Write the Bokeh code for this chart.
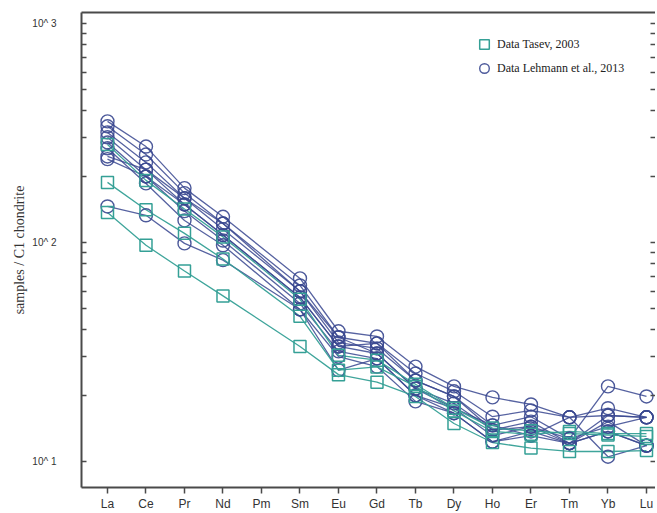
from bokeh.plotting import figure
from bokeh.models import (FixedTicker, LogAxis, LinearAxis, Legend, LegendItem,
                          CustomJSTickFormatter, Range1d)
from bokeh.embed import file_html
from bokeh.resources import INLINE

# ---- data -------------------------------------------------------------
elements = ["La", "Ce", "Pr", "Nd", "Pm", "Sm", "Eu", "Gd", "Tb", "Dy",
            "Ho", "Er", "Tm", "Yb", "Lu"]
measured = ["La", "Ce", "Pr", "Nd", "Sm", "Eu", "Gd", "Tb", "Dy",
            "Ho", "Er", "Tm", "Yb", "Lu"]

tasev_1 = [188, 141, 110, 84, 46, 26.1, 27, 22, 17, 13.7, 13.3, 13.7, 13.4, 13.4]
tasev_2 = [137, 97, 74, 57, 33.5, 24.9, 23, 19.8, 14.9, 12.2, 11.5, 11.1, 11.1, 11.2]
tasev_3 = [280, 192, 142, 106, 55, 30.5, 29, 22.5, 17.5, 14.2, 13.8, 13.4, 13.2, 13.0]

lehmann_1 = [357, 274, 177, 131, 68.5, 39.3, 37.2, 27.1, 22.0, 19.6, 18.2, 15.9, 17.5, 15.9]
lehmann_2 = [339, 252, 168, 122, 63.6, 36.9, 34.6, 25.2, 20.9, 16.0, 17.1, 15.9, 16.2, 15.9]
lehmann_3 = [318, 232, 159, 115, 59.8, 34.9, 32.8, 23.4, 19.8, 14.6, 16.0, 12.7, 22.0, 19.8]
lehmann_4 = [302, 215, 149, 108, 56.1, 33.5, 31.1, 21.5, 18.4, 13.9, 15.2, 12.1, 15.2, 11.8]
lehmann_5 = [286, 200, 139, 102, 52.6, 31.8, 29.5, 20.0, 17.5, 13.1, 14.4, 12.7, 14.4, 15.9]
lehmann_6 = [269, 186, 126, 97, 49.4, 30.1, 27.1, 18.8, 16.6, 12.3, 13.7, 12.1, 13.7, 11.8]
lehmann_7 = [247, 215, 159, 122, 59.8, 36.9, 31.1, 21.5, 17.5, 14.6, 13.1, 15.9, 10.5, 11.8]
lehmann_8 = [240, 200, 149, 108, 56.1, 33.5, 34.6, 23.4, 19.8, 13.9, 14.4, 12.1, 16.2, 15.9]
lehmann_9 = [146, 133, 99, 83, 49.4, 26.1, 29.5, 20.0, 16.6, 12.3, 13.1, 12.1, 13.7, 11.8]

tasev = [tasev_1, tasev_2, tasev_3]
lehmann = [lehmann_1, lehmann_2, lehmann_3, lehmann_4, lehmann_5,
           lehmann_6, lehmann_7, lehmann_8, lehmann_9]

y_major = [10, 100, 1000]
y_minor = [20, 30, 40, 50, 60, 70, 80, 90, 200, 300, 400, 500, 600, 700, 800, 900]

# ---- styles -----------------------------------------------------------
TEAL = "#35a096"
NAVY = "#3a4890"
AXIS = "#4a4a4a"

x = [elements.index(e) for e in measured]

p = figure(width=655, height=513, y_axis_type="log",
           x_range=Range1d(-0.675, 14.234), y_range=Range1d(7.6, 1122),
           min_border_left=81, min_border_right=0, min_border_top=12,
           min_border_bottom=24, output_backend="svg", toolbar_location=None,
           outline_line_color=None, background_fill_color="white")
p.xgrid.visible = False
p.ygrid.visible = False

for s in lehmann:
    p.line(x, s, line_color=NAVY, line_width=1.3, line_alpha=0.85)
for s in tasev:
    p.line(x, s, line_color=TEAL, line_width=1.3, line_alpha=0.95)

circ = []
for s in lehmann:
    circ.append(p.scatter(x, s, marker="circle", size=13, line_color=NAVY,
                          fill_color=None, line_width=1.4, line_alpha=0.9))
sq = []
for s in tasev:
    sq.append(p.scatter(x, s, marker="square", size=12, line_color=TEAL,
                        fill_color=None, line_width=1.5))

# x axis
xa = p.xaxis[0]
xa.ticker = FixedTicker(ticks=list(range(len(elements))))
xa.major_label_overrides = {i: e for i, e in enumerate(elements)}
xa.minor_tick_line_color = None
xa.major_tick_in = 0
xa.major_tick_out = 6
xa.major_tick_line_color = AXIS
xa.major_tick_line_width = 1.5
xa.axis_line_color = AXIS
xa.axis_line_width = 2
xa.major_label_standoff = 3
xa.major_label_text_font = "Liberation Sans"
xa.major_label_text_font_size = "12px"
xa.major_label_text_color = "#333333"

# y axis
ya = p.yaxis[0]
ya.ticker = FixedTicker(ticks=y_major, minor_ticks=y_minor)
ya.formatter = CustomJSTickFormatter(code="return '10^ ' + Math.round(Math.log10(tick));")
ya.major_tick_in = 5
ya.major_tick_out = 0
ya.minor_tick_in = 5
ya.minor_tick_out = 0
ya.major_tick_line_color = AXIS
ya.minor_tick_line_color = AXIS
ya.major_tick_line_width = 1.5
ya.minor_tick_line_width = 1.5
ya.axis_line_color = AXIS
ya.axis_line_width = 2
ya.major_label_standoff = 25
ya.major_label_text_font = "Liberation Sans"
ya.major_label_text_font_size = "10px"
ya.major_label_text_color = "#333333"
ya.axis_label = "samples / C1 chondrite"
ya.axis_label_text_font = "Liberation Serif"
ya.axis_label_text_font_size = "14px"
ya.axis_label_text_font_style = "normal"
ya.axis_label_text_color = "#333333"
ya.axis_label_standoff = 2

# right axis: inward ticks only
ra = LogAxis(ticker=FixedTicker(ticks=y_major, minor_ticks=y_minor),
             formatter=CustomJSTickFormatter(code="return '';"),
             axis_line_color=None, major_tick_in=5, major_tick_out=0,
             minor_tick_in=5, minor_tick_out=0, major_tick_line_color=AXIS,
             minor_tick_line_color=AXIS, major_tick_line_width=1.5,
             minor_tick_line_width=1.5, major_label_standoff=0,
             major_label_text_font_size="0px")
p.add_layout(ra, "right")

# top frame line
ta = LinearAxis(ticker=FixedTicker(ticks=[]), axis_line_color=AXIS,
                axis_line_width=2, major_tick_line_color=None,
                minor_tick_line_color=None, major_label_standoff=0,
                major_label_text_font_size="0px")
p.add_layout(ta, "above")

legend = Legend(items=[LegendItem(label="Data Tasev, 2003", renderers=[sq[0]]),
                       LegendItem(label="Data Lehmann et al., 2013", renderers=[circ[0]])],
                location=(391, 407), padding=0, margin=0, spacing=0,
                glyph_width=24, glyph_height=24, label_height=24,
                label_standoff=1, border_line_color=None,
                background_fill_alpha=0,
                label_text_font="Liberation Serif", label_text_font_size="12px",
                label_text_color="#222222")
p.add_layout(legend, "center")

open("out.html", "w").write(file_html(p, INLINE))
